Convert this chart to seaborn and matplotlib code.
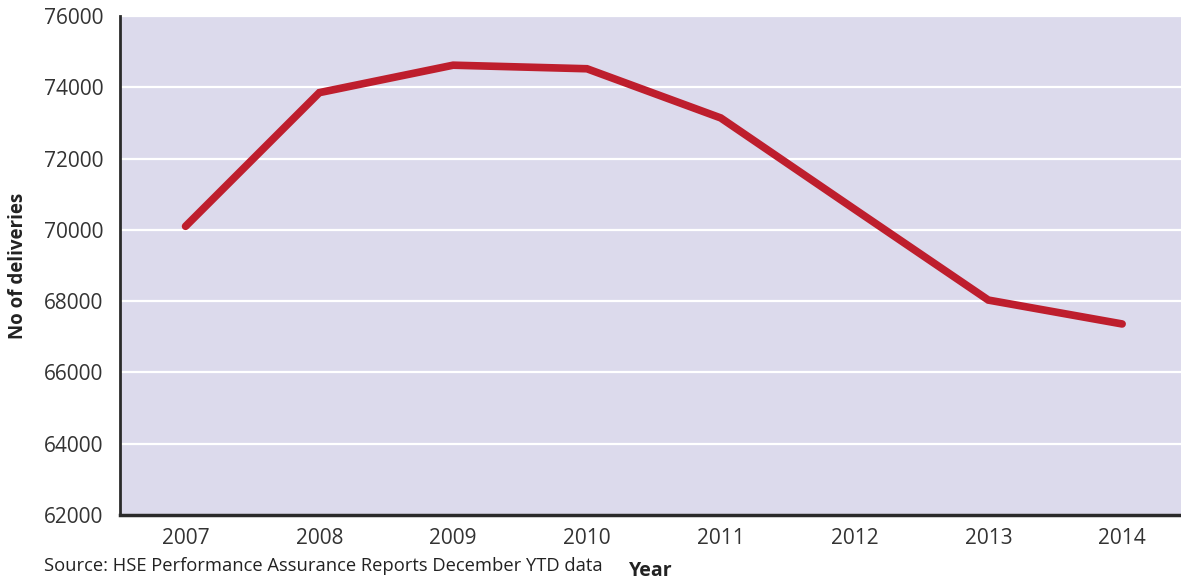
import matplotlib
matplotlib.use("Agg")
import matplotlib.pyplot as plt
import seaborn as sns
import pandas as pd

years = ["2007", "2008", "2009", "2010", "2011", "2012", "2013", "2014"]
deliveries = [70100, 73850, 74620, 74520, 73140, 70580, 68030, 67360]
yticks = [62000, 64000, 66000, 68000, 70000, 72000, 74000, 76000]

sns.set_theme(style="dark")
plt.rcParams['font.family'] = ['Open Sans', 'DejaVu Sans']

df = pd.DataFrame({"Year": years, "Deliveries": deliveries})
df["pos"] = range(len(years))

fig = plt.figure(figsize=(11.81, 5.79), dpi=100)
ax = fig.add_axes([120/1181, 1-515/579, 1-120/1181, (515-16)/579])
ax.set_facecolor("#DCDAEC")
fig.patch.set_facecolor("white")

sns.lineplot(data=df, x="pos", y="Deliveries", ax=ax, color="#BE1E2D",
             linewidth=5.5, solid_capstyle="round", solid_joinstyle="miter")

ax.set_ylim(62000, 76000)
ax.set_yticks(yticks)
ax.set_yticklabels([str(v) for v in yticks])
ax.set_xlim(-0.49, 7.44)
ax.set_xticks(range(len(years)))
ax.set_xticklabels(years)
ax.yaxis.grid(True, color="white", linewidth=1.6)
ax.xaxis.grid(False)
ax.set_axisbelow(True)
ax.tick_params(axis="both", length=0, labelsize=15, colors="#333333")
ax.tick_params(axis="y", pad=12)
ax.tick_params(axis="x", pad=9)

for s in ["top", "right"]:
    ax.spines[s].set_visible(False)
ax.spines["left"].set_color("#2a2a2a")
ax.spines["left"].set_linewidth(2.0)
ax.spines["bottom"].set_color("#2a2a2a")
ax.spines["bottom"].set_linewidth(2.5)

ax.set_xlabel("Year", fontsize=14, fontweight="bold", color="#222222", va="center")
ax.xaxis.set_label_coords(0.5, -56/499)
ax.set_ylabel("No of deliveries", fontsize=13.5, fontweight="bold", color="#222222", labelpad=11)

fig.text(44/1181, 1-566/579, "Source: HSE Performance Assurance Reports December YTD data",
         fontsize=13.2, color="#222222", ha="left", va="center")

fig.savefig("out.png", dpi=100)
